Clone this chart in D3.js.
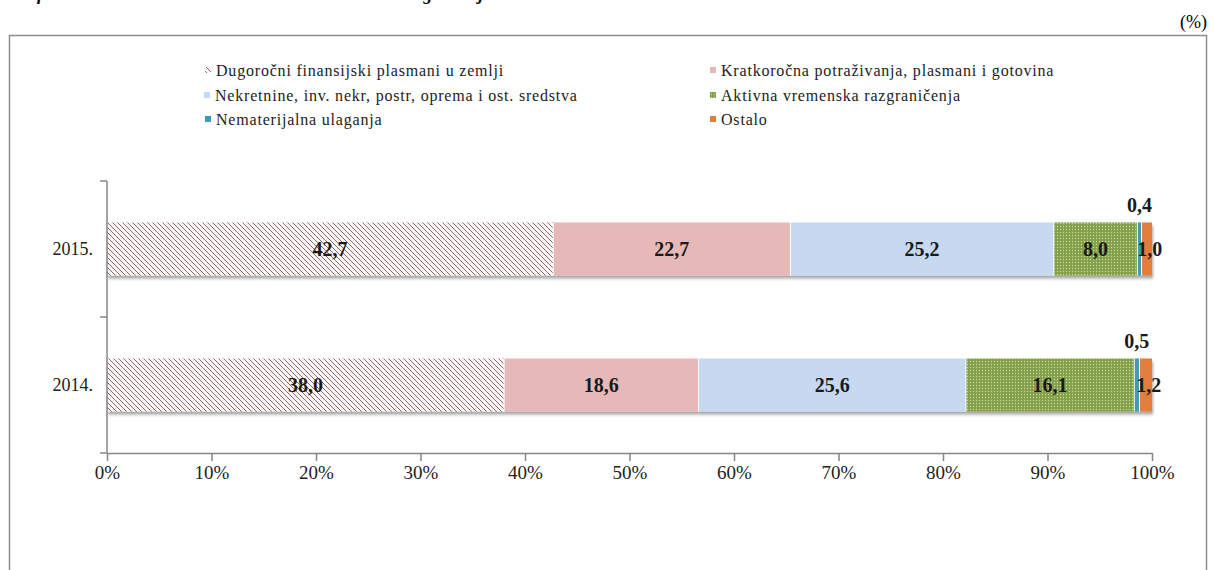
<!DOCTYPE html>
<html>
<head>
<meta charset="utf-8">
<script src="https://cdn.jsdelivr.net/npm/d3@7"></script>
<style>
  body { margin: 0; background: #fff; }
  text { font-family: "Liberation Serif", "DejaVu Serif", serif; }
</style>
</head>
<body>
<script>
// data
const years = ["2015.", "2014."];
const series = [
  "Dugoročni finansijski plasmani  u zemlji",
  "Kratkoročna potraživanja, plasmani i gotovina",
  "Nekretnine, inv. nekr, postr, oprema i ost. sredstva",
  "Aktivna vremenska razgraničenja",
  "Nematerijalna ulaganja",
  "Ostalo"
];
const values2015 = [42.7, 22.7, 25.2, 8.0, 0.4, 1.0];
const values2014 = [38.0, 18.6, 25.6, 16.1, 0.5, 1.2];
const xTicks = [0, 10, 20, 30, 40, 50, 60, 70, 80, 90, 100];

const width = 1214, height = 570;
const fills = ["url(#hatch)", "#e6b9b8", "#c6d9f1", "url(#dots)", "#3f9bb3", "#e27d3a"];

const svg = d3.select("body").append("svg")
  .attr("width", width).attr("height", height);

const defs = svg.append("defs");
const hatch = defs.append("pattern").attr("id", "hatch")
  .attr("patternUnits", "userSpaceOnUse").attr("width", 5).attr("height", 5);
hatch.append("rect").attr("width", 5).attr("height", 5).attr("fill", "#fcf5f5");
hatch.append("path").attr("d", "M-1,-1L6,6M-1,4L1,6M4,-1L6,1")
  .attr("stroke", "#8a6a6a").attr("stroke-width", 1);

const dots = defs.append("pattern").attr("id", "dots")
  .attr("patternUnits", "userSpaceOnUse").attr("width", 3).attr("height", 3);
dots.append("rect").attr("width", 3).attr("height", 3).attr("fill", "#83a04a");
dots.append("circle").attr("cx", 1.5).attr("cy", 1.5).attr("r", 0.7).attr("fill", "#c8dca0");

const shadow = defs.append("filter").attr("id", "shadow")
  .attr("x", "-5%").attr("y", "-20%").attr("width", "110%").attr("height", "150%");
shadow.append("feDropShadow").attr("dx", 1).attr("dy", 3).attr("stdDeviation", 1.5)
  .attr("flood-color", "#000").attr("flood-opacity", 0.35);

// title (cut at the top, as in the source) and unit
svg.append("text").attr("x", 2).attr("y", 0)
  .attr("font-size", 18).attr("font-weight", "bold").attr("font-style", "italic")
  .attr("letter-spacing", 2)
  .text("Grafikon 3.: Struktura aktive društava za osiguranje");
svg.append("text").attr("x", 1207).attr("y", 28).attr("text-anchor", "end")
  .attr("font-size", 18).text("(%)");

// frame
svg.append("rect").attr("x", 9.5).attr("y", 35.5).attr("width", 1197).attr("height", 560)
  .attr("fill", "none").attr("stroke", "#8c8c8c").attr("stroke-width", 1.5);

// scales
const x = d3.scaleLinear([0, 100], [107, 1152]);
const y = d3.scaleBand(years, [181, 453]).paddingInner(0.61).paddingOuter(0.305);

const rows = years.map((yr, i) => {
  const vals = i === 0 ? values2015 : values2014;
  let acc = 0;
  return vals.map((v, j) => {
    const d = { year: yr, s: j, v, x0: acc, x1: acc + v };
    acc += v;
    return d;
  });
}).flat();

// bars
svg.append("g").attr("filter", "url(#shadow)")
  .selectAll("rect").data(rows).join("rect")
  .attr("x", d => x(d.x0))
  .attr("y", d => y(d.year))
  .attr("width", d => x(d.x1) - x(d.x0))
  .attr("height", y.bandwidth())
  .attr("fill", d => fills[d.s]);

// separators between segments
svg.append("g").selectAll("line").data(rows.filter(d => d.s > 0)).join("line")
  .attr("x1", d => x(d.x0)).attr("x2", d => x(d.x0))
  .attr("y1", d => y(d.year)).attr("y2", d => y(d.year) + y.bandwidth())
  .attr("stroke", "#fff").attr("stroke-width", 1);

// axes
const axisColor = "#868686";
const xAxis = svg.append("g").attr("transform", "translate(0,453)")
  .call(d3.axisBottom(x).tickValues(xTicks).tickFormat(d => d + "%").tickSize(8).tickPadding(5).tickSizeOuter(0));
xAxis.select(".domain").attr("stroke", axisColor).attr("stroke-width", 1.5);
xAxis.selectAll(".tick line").attr("stroke", axisColor).attr("stroke-width", 1.5);
xAxis.selectAll("text").attr("font-size", 19).attr("fill", "#222")
  .attr("font-family", "Liberation Serif, serif");

const yAxis = svg.append("g").attr("transform", "translate(107,0)");
yAxis.append("line").attr("y1", 181).attr("y2", 453).attr("stroke", axisColor).attr("stroke-width", 1.5);
yAxis.selectAll(".tk").data([181, 317, 453]).join("line")
  .attr("x1", -7).attr("x2", 0).attr("y1", d => d).attr("y2", d => d)
  .attr("stroke", axisColor).attr("stroke-width", 1.5);
yAxis.selectAll("text").data(years).join("text")
  .attr("x", -14).attr("y", d => y(d) + y.bandwidth() / 2 + 6)
  .attr("text-anchor", "end").attr("font-size", 18).attr("fill", "#222")
  .text(d => d);

// value labels
const fmt = v => v.toFixed(1).replace(".", ",");
svg.append("g").selectAll("text").data(rows).join("text")
  .attr("x", d => d.s === 5 ? x((d.x0 + d.x1) / 2) + 3 : x((d.x0 + d.x1) / 2))
  .attr("y", d => d.s === 4 ? y(d.year) - 10 : y(d.year) + y.bandwidth() / 2 + 7)
  .attr("text-anchor", "middle")
  .attr("font-size", 20).attr("font-weight", "bold").attr("fill", "#1a1a1a")
  .text(d => fmt(d.v));

// legend
const legendPos = [[205, 71], [710, 71], [204, 96], [710, 96], [205, 120], [710, 120]];
const lg = svg.append("g").selectAll("g").data(series).join("g")
  .attr("transform", (d, i) => `translate(${legendPos[i][0]},${legendPos[i][1]})`);
lg.append("rect").attr("x", 0).attr("y", -4).attr("width", 6).attr("height", 6)
  .attr("fill", (d, i) => fills[i]);
lg.append("text").attr("x", 11).attr("y", 5).attr("font-size", 16)
  .attr("font-family", "Liberation Serif, serif")
  .attr("letter-spacing", 0.8).attr("fill", "#222")
  .text(d => d);
</script>
</body>
</html>
